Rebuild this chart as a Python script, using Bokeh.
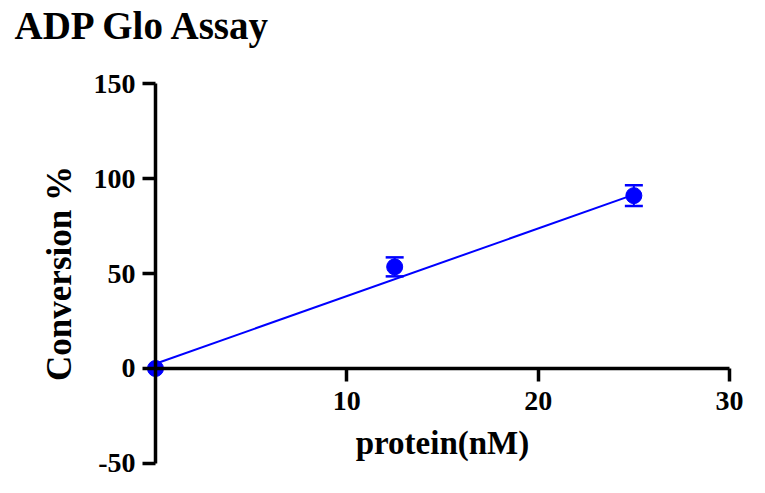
from bokeh.plotting import figure
from bokeh.models import (ColumnDataSource, Whisker, TeeHead, FixedTicker, Range1d,
                          CustomJSTickFormatter)
from bokeh.embed import file_html
from bokeh.resources import INLINE

# data
protein_nM = [0.0, 12.5, 25.0]
conversion = [0.0, 53.5, 91.0]
conversion_sd = [0.0, 5.0, 5.5]

# linear fit drawn through the points
fit_x = [0.0, 25.0]
fit_y = [2.5, 91.5]

x_ticks = [10, 20, 30]
y_ticks = [-50, 0, 50, 100, 150]

SERIF = "Liberation Serif"
BLUE = "#0000ff"

pts = ColumnDataSource(dict(x=protein_nM, y=conversion))
err_rows = [i for i, e in enumerate(conversion_sd) if e > 0]
errs = ColumnDataSource(dict(
    x=[protein_nM[i] for i in err_rows],
    upper=[conversion[i] + conversion_sd[i] for i in err_rows],
    lower=[conversion[i] - conversion_sd[i] for i in err_rows],
))

# the frame fills the page below the title; the axes sit on the origin
p = figure(width=765, height=493, output_backend="svg", toolbar_location=None,
           x_range=Range1d(-8.10, 31.88), y_range=Range1d(-65.8, 169.5),
           title="ADP Glo Assay",
           min_border_left=0, min_border_right=0,
           min_border_top=46, min_border_bottom=0)

p.title.text_font = SERIF
p.title.text_font_style = "bold"
p.title.text_font_size = "39px"
p.title.text_color = "black"
p.title.align = "left"
p.title.offset = 14
p.title.standoff = 0

p.grid.visible = False
p.outline_line_color = None
p.background_fill_color = "white"
p.border_fill_color = "white"

p.xaxis.fixed_location = 0
p.yaxis.fixed_location = 0
p.xaxis.bounds = (0, 30)
p.yaxis.bounds = (-50, 150)
p.xaxis.ticker = FixedTicker(ticks=x_ticks)
p.yaxis.ticker = FixedTicker(ticks=y_ticks)
# plain hyphen for negatives, as in the reference
p.yaxis.formatter = CustomJSTickFormatter(code="return tick.toString();")

for ax in (p.xaxis, p.yaxis):
    ax.axis_line_width = 3.5
    ax.axis_line_color = "black"
    ax.major_tick_line_width = 3.5
    ax.major_tick_line_color = "black"
    ax.major_tick_out = 13
    ax.major_tick_in = 0
    ax.minor_tick_out = 0
    ax.minor_tick_in = 0
    ax.major_label_text_font = SERIF
    ax.major_label_text_font_style = "bold"
    ax.major_label_text_font_size = "28px"
    ax.major_label_text_color = "black"
    ax.axis_label_text_font = SERIF
    ax.axis_label_text_font_style = "bold"
    ax.axis_label_text_color = "black"

p.xaxis.axis_label = "protein(nM)"
p.xaxis.axis_label_text_font_size = "33px"
p.xaxis.major_label_standoff = 11
p.xaxis.axis_label_standoff = 11

p.yaxis.axis_label = "Conversion %"
p.yaxis.axis_label_text_font_size = "35px"
p.yaxis.major_label_standoff = 7
p.yaxis.axis_label_standoff = 12

p.line(fit_x, fit_y, line_color=BLUE, line_width=2)

p.add_layout(Whisker(base="x", upper="upper", lower="lower", source=errs,
                     line_color=BLUE, line_width=2,
                     upper_head=TeeHead(size=18, line_color=BLUE, line_width=2.5),
                     lower_head=TeeHead(size=18, line_color=BLUE, line_width=2.5)))

p.scatter("x", "y", source=pts, size=16, color=BLUE)

open("out.html", "w").write(file_html(p, INLINE))
